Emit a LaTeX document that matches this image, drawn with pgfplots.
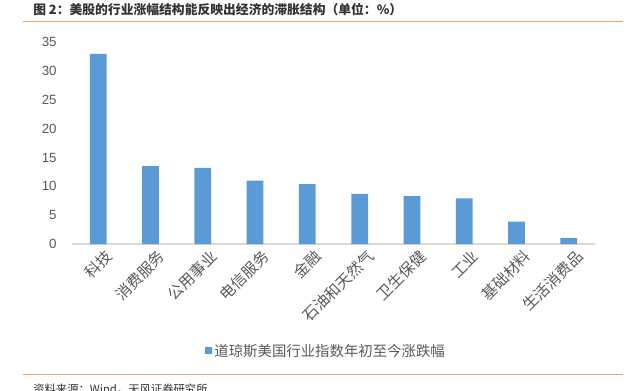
\documentclass[border=0pt]{standalone}
\usepackage{pgfplots}
\pgfplotsset{compat=1.18}
\usepackage{fontspec}
\setmainfont{Noto Sans CJK SC}
\newfontfamily\numfont{Liberation Sans}
\definecolor{barblue}{HTML}{5B9BD5}
\definecolor{txtgray}{HTML}{595959}
\definecolor{axgray}{HTML}{D9D9D9}
\definecolor{orangeline}{HTML}{F4A460}
\begin{document}
\begin{tikzpicture}[x=0.75pt,y=0.75pt]
\useasboundingbox (0,0) rectangle (638,390);
% title
\node[anchor=west,font=\bfseries\fontsize{9.6pt}{11pt}\selectfont,text=black!80,inner sep=0] at (33,380) {图 2：美股的行业涨幅结构能反映出经济的滞胀结构（单位：\%）};
\draw[orangeline,line width=1.2pt] (23,368.5) -- (623,368.5);
\draw[orangeline,line width=1.2pt] (23,15.5) -- (623,15.5);
\node[anchor=west,font=\fontsize{8.5pt}{10pt}\selectfont,text=black!80,inner sep=0] at (33,1) {资料来源：Wind，天风证券研究所};
\begin{axis}[
  at={(54pt,109.5pt)}, anchor=south west,
  scale only axis,
  width=392.25pt, height=151.3pt,
  xmin=-0.5, xmax=9.5, ymin=0, ymax=35,
  ytick={0,5,...,35},
  xtick=data,
  xticklabels={科技,消费服务,公用事业,电信服务,金融,石油和天然气,卫生保健,工业,基础材料,生活消费品},
  axis x line*=bottom,
  axis y line*=left,
  x axis line style={axgray,line width=0.8pt,-},
  y axis line style={draw=none,-},
  major tick length=0pt,
  yticklabel style={font=\numfont\fontsize{10pt}{12pt}\selectfont,text=txtgray,xshift=-8pt},
  /pgf/number format/assume math mode=true,
  xticklabel style={rotate=45,anchor=east,font=\fontsize{11.5pt}{13pt}\selectfont,text=txtgray,inner sep=1pt,yshift=-11pt,xshift=2pt},
  ybar, bar width=0.32,
  legend style={at={(0.486,-0.53)},anchor=center,draw=none,fill=none,font=\fontsize{10.8pt}{12pt}\selectfont,text=txtgray},
  legend image code/.code={\fill[#1,draw=none] (0,-2.6pt) rectangle (5.2pt,2.6pt);},
]
\addplot[fill=barblue,draw=none] coordinates {(0,33.0) (1,13.5) (2,13.2) (3,11.0) (4,10.4) (5,8.7) (6,8.3) (7,7.9) (8,3.9) (9,1.0)};
\addlegendentry{道琼斯美国行业指数年初至今涨跌幅}
\end{axis}
\end{tikzpicture}
\end{document}
